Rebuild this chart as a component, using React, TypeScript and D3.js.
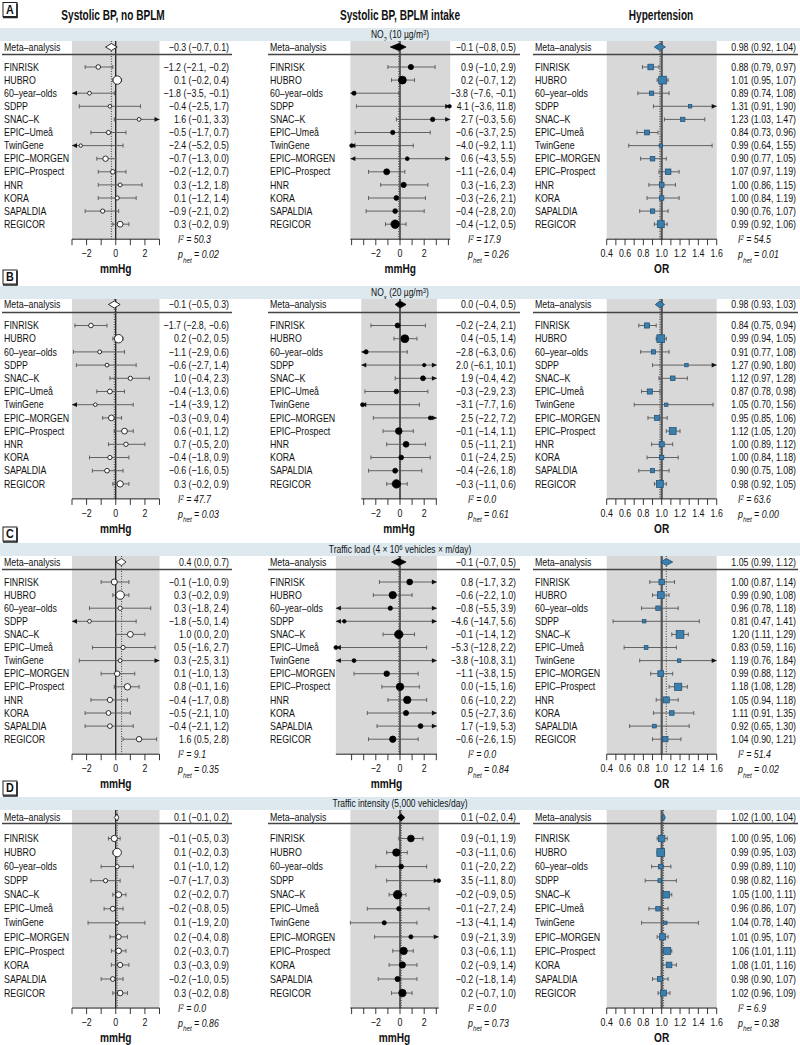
import React from "react";
import * as d3 from "d3";

type CI = [number, number, number];

// ---- labels ----
const studyNames = ["FINRISK", "HUBRO", "60–year–olds", "SDPP", "SNAC–K", "EPIC–Umeå", "TwinGene",
  "EPIC–MORGEN", "EPIC–Prospect", "HNR", "KORA", "SAPALDIA", "REGICOR"];
const studyNamesD = studyNames.filter(s => s !== "HNR");
const columnTitles = ["Systolic BP, no BPLM", "Systolic BP, BPLM intake", "Hypertension"];
const axisTitles = ["mmHg", "mmHg", "OR"];
const panelLetters = ["A", "B", "C", "D"];

// ---- A: NO2 (10 µg/m3) ----
const no2Meta: CI[] = [[-0.3, -0.7, 0.1], [-0.1, -0.8, 0.5], [0.98, 0.92, 1.04]];
const no2NoBplm: CI[] = [[-1.2, -2.1, -0.2], [0.1, -0.2, 0.4], [-1.8, -3.5, -0.1], [-0.4, -2.5, 1.7], [1.6, -0.1, 3.3],
  [-0.5, -1.7, 0.7], [-2.4, -5.2, 0.5], [-0.7, -1.3, 0.0], [-0.2, -1.2, 0.7], [0.3, -1.2, 1.8], [0.1, -1.2, 1.4],
  [-0.9, -2.1, 0.2], [0.3, -0.2, 0.9]];
const no2Bplm: CI[] = [[0.9, -1.0, 2.9], [0.2, -0.7, 1.2], [-3.8, -7.6, -0.1], [4.1, -3.6, 11.8], [2.7, -0.3, 5.6],
  [-0.6, -3.7, 2.5], [-4.0, -9.2, 1.1], [0.6, -4.3, 5.5], [-1.1, -2.6, 0.4], [0.3, -1.6, 2.3], [-0.3, -2.6, 2.1],
  [-0.4, -2.8, 2.0], [-0.4, -1.2, 0.5]];
const no2Htn: CI[] = [[0.88, 0.79, 0.97], [1.01, 0.95, 1.07], [0.89, 0.74, 1.08], [1.31, 0.91, 1.90], [1.23, 1.03, 1.47],
  [0.84, 0.73, 0.96], [0.99, 0.64, 1.55], [0.90, 0.77, 1.05], [1.07, 0.97, 1.19], [1.00, 0.86, 1.15], [1.00, 0.84, 1.19],
  [0.90, 0.76, 1.07], [0.99, 0.92, 1.06]];

// ---- B: NOx (20 µg/m3) ----
const noxMeta: CI[] = [[-0.1, -0.5, 0.3], [0.0, -0.4, 0.5], [0.98, 0.93, 1.03]];
const noxNoBplm: CI[] = [[-1.7, -2.8, -0.6], [0.2, -0.2, 0.5], [-1.1, -2.9, 0.6], [-0.6, -2.7, 1.4], [1.0, -0.4, 2.3],
  [-0.4, -1.3, 0.6], [-1.4, -3.9, 1.2], [-0.3, -0.9, 0.4], [0.6, -0.1, 1.2], [0.7, -0.5, 2.0], [-0.4, -1.8, 0.9],
  [-0.6, -1.6, 0.5], [0.3, -0.2, 0.9]];
const noxBplm: CI[] = [[-0.2, -2.4, 2.1], [0.4, -0.5, 1.4], [-2.8, -6.3, 0.6], [2.0, -6.1, 10.1], [1.9, -0.4, 4.2],
  [-0.3, -2.9, 2.3], [-3.1, -7.7, 1.6], [2.5, -2.2, 7.2], [-0.1, -1.4, 1.1], [0.5, -1.1, 2.1], [0.1, -2.4, 2.5],
  [-0.4, -2.6, 1.8], [-0.3, -1.1, 0.6]];
const noxHtn: CI[] = [[0.84, 0.75, 0.94], [0.99, 0.94, 1.05], [0.91, 0.77, 1.08], [1.27, 0.90, 1.80], [1.12, 0.97, 1.28],
  [0.87, 0.78, 0.98], [1.05, 0.70, 1.56], [0.95, 0.85, 1.06], [1.12, 1.05, 1.20], [1.00, 0.89, 1.12], [1.00, 0.84, 1.18],
  [0.90, 0.75, 1.08], [0.98, 0.92, 1.05]];

// ---- C: traffic load ----
const loadMeta: CI[] = [[0.4, 0.0, 0.7], [-0.1, -0.7, 0.5], [1.05, 0.99, 1.12]];
const loadNoBplm: CI[] = [[-0.1, -1.0, 0.9], [0.3, -0.2, 0.9], [0.3, -1.8, 2.4], [-1.8, -5.0, 1.4], [1.0, 0.0, 2.0],
  [0.5, -1.6, 2.7], [0.3, -2.5, 3.1], [0.1, -1.0, 1.3], [0.8, -0.1, 1.6], [-0.4, -1.7, 0.8], [-0.5, -2.1, 1.0],
  [-0.4, -2.1, 1.2], [1.6, 0.5, 2.8]];
const loadBplm: CI[] = [[0.8, -1.7, 3.2], [-0.6, -2.2, 1.0], [-0.8, -5.5, 3.9], [-4.6, -14.7, 5.6], [-0.1, -1.4, 1.2],
  [-5.3, -12.8, 2.2], [-3.8, -10.8, 3.1], [-1.1, -3.8, 1.5], [0.0, -1.5, 1.6], [0.6, -1.0, 2.2], [0.5, -2.7, 3.6],
  [1.7, -1.9, 5.3], [-0.6, -2.6, 1.5]];
const loadHtn: CI[] = [[1.00, 0.87, 1.14], [0.99, 0.90, 1.08], [0.96, 0.78, 1.18], [0.81, 0.47, 1.41], [1.20, 1.11, 1.29],
  [0.83, 0.59, 1.16], [1.19, 0.76, 1.84], [0.99, 0.88, 1.12], [1.18, 1.08, 1.28], [1.05, 0.94, 1.18], [1.11, 0.91, 1.35],
  [0.92, 0.65, 1.30], [1.04, 0.90, 1.21]];

// ---- D: traffic intensity (no HNR) ----
const intMeta: CI[] = [[0.1, -0.1, 0.2], [0.1, -0.2, 0.4], [1.02, 1.00, 1.04]];
const intNoBplm: CI[] = [[-0.1, -0.5, 0.3], [0.1, -0.2, 0.3], [0.1, -1.0, 1.2], [-0.7, -1.7, 0.3], [0.2, -0.2, 0.7],
  [-0.2, -0.8, 0.5], [0.1, -1.9, 2.0], [0.2, -0.4, 0.8], [0.2, -0.3, 0.7], [0.3, -0.3, 0.9], [-0.2, -1.0, 0.5],
  [0.3, -0.2, 0.8]];
const intBplm: CI[] = [[0.9, -0.1, 1.9], [-0.3, -1.1, 0.6], [0.1, -2.0, 2.2], [3.5, -1.1, 8.0], [-0.2, -0.9, 0.5],
  [-0.1, -2.7, 2.4], [-1.3, -4.1, 1.4], [0.9, -2.1, 3.9], [0.3, -0.6, 1.1], [0.2, -0.9, 1.4], [-0.2, -1.8, 1.4],
  [0.2, -0.7, 1.0]];
const intHtn: CI[] = [[1.00, 0.95, 1.06], [0.99, 0.95, 1.03], [0.99, 0.89, 1.10], [0.98, 0.82, 1.16], [1.05, 1.00, 1.11],
  [0.96, 0.86, 1.07], [1.04, 0.78, 1.40], [1.01, 0.95, 1.07], [1.06, 1.01, 1.11], [1.08, 1.01, 1.16], [0.98, 0.90, 1.07],
  [1.02, 0.96, 1.09]];

const hetI2 = [[50.3, 17.9, 54.5], [47.7, 0.0, 63.6], [9.1, 0.0, 51.4], [0.0, 0.0, 6.9]];
const hetP = [[0.02, 0.26, 0.01], [0.03, 0.61, 0.00], [0.35, 0.84, 0.02], [0.86, 0.73, 0.38]];

// visible range of the BPLM-intake axis in each panel
const bplmDomains: [number, number][] = [[-4.1, 4.15], [-3.2, 3.05], [-5.3, 3.05], [-4.1, 3.2]];

type Seg = { t: string; s?: "sub" | "super" };
const exposureHeaders: Seg[][] = [
  [{ t: "NO" }, { t: "2", s: "sub" }, { t: " (10 µg/m" }, { t: "3", s: "super" }, { t: ")" }],
  [{ t: "NO" }, { t: "x", s: "sub" }, { t: " (20 µg/m" }, { t: "3", s: "super" }, { t: ")" }],
  [{ t: "Traffic load (4 × 10" }, { t: "6", s: "super" }, { t: " vehicles × m/day)" }],
  [{ t: "Traffic intensity (5,000 vehicles/day)" }],
];

const panels = [
  { names: studyNames, meta: no2Meta, rows: [no2NoBplm, no2Bplm, no2Htn], top: 28, step: 13.1, metaOff: 19, firstOff: 39 },
  { names: studyNames, meta: noxMeta, rows: [noxNoBplm, noxBplm, noxHtn], top: 286, step: 13.2, metaOff: 18.5, firstOff: 39.5 },
  { names: studyNames, meta: loadMeta, rows: [loadNoBplm, loadBplm, loadHtn], top: 543, step: 13.1, metaOff: 19, firstOff: 39 },
  { names: studyNamesD, meta: intMeta, rows: [intNoBplm, intBplm, intHtn], top: 797, step: 14.05, metaOff: 20.5, firstOff: 41.5 },
];

const FONT = "'Liberation Sans', Arial, sans-serif";
const GRAY = "#d8d8d8";
const BAND = "#dde9ef";
const BLUE = "#3b7fae";

const columns = [
  { labelX: 4, valueX: 229, hetX: 178, titleX: 113, sep: [2, 232], nullV: 0, fmt: d3.format(".1f") },
  { labelX: 270, valueX: 516, hetX: 468, titleX: 400, sep: [268, 520], nullV: 0, fmt: d3.format(".1f") },
  { labelX: 535, valueX: 796, hetX: 738, titleX: 661, sep: [533, 798], nullV: 1, fmt: d3.format(".2f") },
];

// condensed text: the original uses a narrow face, so squeeze Liberation Sans horizontally
function T({ x, y, size = 10.5, anchor = "start", weight, italic, sx = 0.84, mid = false, children }: any) {
  return (
    <text transform={`translate(${x},${y}) scale(${sx},1)`} fontSize={size} textAnchor={anchor}
      fontWeight={weight} fontStyle={italic ? "italic" : undefined} dy={mid ? ".35em" : undefined}>
      {children}
    </text>
  );
}

function scaleFor(p: number, c: number) {
  if (c === 0) return d3.scaleLinear().domain([-3, 3]).range([72, 159.5]);
  if (c === 1) {
    const dom = bplmDomains[p];
    return d3.scaleLinear().domain(dom).range([400 + dom[0] * 12.1, 400 + dom[1] * 12.1]);
  }
  return d3.scaleLinear().domain([0.4, 1.6]).range([606.7, 716.7]);
}

function ciWidth(d: CI, c: number) {
  return c === 2 ? Math.log(d[2]) - Math.log(d[1]) : d[2] - d[1];
}

function ForestCell({ p, c }: { p: number; c: number }) {
  const panel = panels[p];
  const col = columns[c];
  const x = scaleFor(p, c);
  const [d0, d1] = x.domain();
  const rows = panel.rows[c];
  const meta = panel.meta[c];
  const top = panel.top;
  const bandBottom = top + 13;
  const metaY = top + panel.metaOff;
  const rowY = (i: number) => top + panel.firstOff + i * panel.step;
  const axisY = rowY(rows.length - 1) + 15;
  const weights = rows.map(d => 1 / Math.pow(ciWidth(d, c), 2));
  const size = d3.scaleSqrt().domain([0, d3.max(weights) as number]).range(c === 2 ? [1.3, 3.9] : [1.4, 4.2]);
  const clamp = (v: number) => Math.max(d0, Math.min(d1, v));
  const ticks = c === 2 ? x.ticks(12) : d3.range(Math.ceil(d0), Math.floor(d1) + 1).filter(v => Math.abs(v) <= 4);
  const labelled = (v: number) => (c === 2 ? Math.round(v * 10) % 2 === 0 : v % 2 === 0 && Math.abs(v) <= 2);
  const fill = c === 0 ? "#fff" : c === 1 ? "#000" : BLUE;
  const stroke = c === 2 ? "#1d4b6e" : "#000";
  const txt = (d: CI) => `${col.fmt(d[0])} (${col.fmt(d[1])}, ${col.fmt(d[2])})`;
  const [r0, r1] = x.range();

  return (
    <g>
      <rect x={r0} y={bandBottom} width={r1 - r0} height={axisY - bandBottom} fill={GRAY} />
      <line x1={x(col.nullV)} x2={x(col.nullV)} y1={bandBottom} y2={axisY}
        stroke={c === 2 ? "#555" : "#000"} strokeWidth={c === 2 ? 2.2 : 1.1} />
      <line x1={x(meta[0])} x2={x(meta[0])} y1={bandBottom} y2={axisY}
        stroke="#333" strokeWidth={0.9} strokeDasharray="1,1.5" />

      {/* meta-analysis row */}
      <T x={col.labelX} y={metaY} mid>Meta–analysis</T>
      <T x={col.valueX} y={metaY} mid anchor="end">{txt(meta)}</T>
      <path d={`M${x(meta[1])},${metaY} L${x(meta[0])},${metaY - 3.5} L${x(meta[2])},${metaY} L${x(meta[0])},${metaY + 3.5} Z`}
        fill={fill} stroke={stroke} strokeWidth={0.8} />
      <line x1={col.sep[0]} x2={col.sep[1]} y1={top + 26.5} y2={top + 26.5} stroke="#444" strokeWidth={1.3} />

      {/* study rows */}
      {rows.map((d, i) => {
        const y = rowY(i);
        const lo = clamp(d[1]), hi = clamp(d[2]);
        const r = size(weights[i]);
        const cx = x(clamp(d[0]));
        return (
          <g key={i}>
            <T x={col.labelX} y={y} mid>{panel.names[i]}</T>
            <T x={col.valueX} y={y} mid anchor="end">{txt(d)}</T>
            <line x1={x(lo)} x2={x(hi)} y1={y} y2={y} stroke="#555" strokeWidth={0.9} />
            {d[1] < d0
              ? <path d={`M${x(d0)},${y} l5,-2.4 l0,4.8 Z`} fill="#111" />
              : <line x1={x(lo)} x2={x(lo)} y1={y - 2} y2={y + 2} stroke="#555" strokeWidth={0.9} />}
            {d[2] > d1
              ? <path d={`M${x(d1)},${y} l-5,-2.4 l0,4.8 Z`} fill="#111" />
              : <line x1={x(hi)} x2={x(hi)} y1={y - 2} y2={y + 2} stroke="#555" strokeWidth={0.9} />}
            {c === 2
              ? <rect x={cx - r} y={y - r} width={2 * r} height={2 * r} fill={fill} stroke={stroke} strokeWidth={0.7} />
              : <circle cx={cx} cy={y} r={r} fill={fill} stroke={stroke} strokeWidth={0.8} />}
          </g>
        );
      })}

      {/* axis */}
      <line x1={r0} x2={r1} y1={axisY} y2={axisY} stroke="#222" strokeWidth={1} />
      {ticks.map(t => (
        <g key={t}>
          <line x1={x(t)} x2={x(t)} y1={axisY} y2={axisY + 6} stroke="#222" strokeWidth={0.9} />
          {labelled(t) && (
            <T x={x(t)} y={axisY + 18} anchor="middle">
              {c === 2 ? d3.format(".1f")(t) : d3.format("d")(t)}
            </T>
          )}
        </g>
      ))}
      <T x={(r0 + r1) / 2} y={axisY + 34} size={13} sx={0.78} weight="bold" anchor="middle">{axisTitles[c]}</T>

      {/* heterogeneity */}
      <T x={col.hetX} y={axisY + 4} italic>
        I<tspan baselineShift="super" fontSize={7}>2</tspan> = {d3.format(".1f")(hetI2[p][c])}
      </T>
      <T x={col.hetX} y={axisY + 19} italic>
        p<tspan baselineShift="sub" fontSize={7.5}>het</tspan> = {d3.format(".2f")(hetP[p][c])}
      </T>
    </g>
  );
}

export default function App() {
  return (
    <svg width={800} height={1045} style={{ position: "absolute", left: 0, top: 0, background: "#fff" }}
      fontFamily={FONT} fill="#111">
      {columns.map((col, c) => (
        <T key={c} x={col.titleX} y={20} size={14} sx={0.72} weight="bold" anchor="middle">{columnTitles[c]}</T>
      ))}
      {panels.map((panel, p) => {
        const boxY = p === 0 ? 2.5 : panel.top - 16;
        return (
          <g key={p}>
            <rect x={0} y={panel.top} width={800} height={13} fill={BAND} />
            <T x={400} y={panel.top + 6.5} mid size={10} sx={0.85} anchor="middle">
              {exposureHeaders[p].map((s, k) => (
                <tspan key={k} baselineShift={s.s} fontSize={s.s ? 7 : 10}>{s.t}</tspan>
              ))}
            </T>
            <rect x={3} y={boxY} width={14} height={14} fill="#fff" stroke="#222" strokeWidth={1} />
            <path d={`M17,${boxY + 1} v14 h-14`} fill="none" stroke="#222" strokeWidth={1.6} />
            <T x={10} y={boxY + 7} mid size={12} sx={0.9} weight="bold" anchor="middle">{panelLetters[p]}</T>
            {[0, 1, 2].map(c => <ForestCell key={c} p={p} c={c} />)}
          </g>
        );
      })}
    </svg>
  );
}
